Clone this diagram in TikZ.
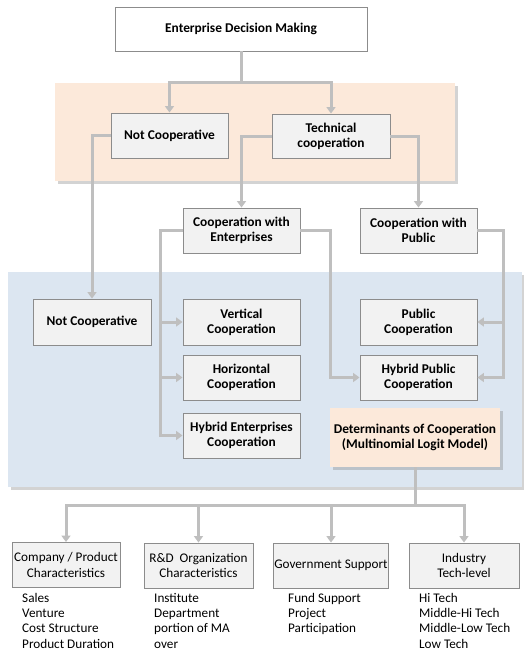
\documentclass[tikz,border=0pt]{standalone}
\usepackage{fontspec}
\setmainfont{Carlito}
\usetikzlibrary{arrows.meta,shadows,calc}
\definecolor{peach}{HTML}{FCE9DA}
\definecolor{paleblue}{HTML}{DCE6F1}
\definecolor{boxfill}{HTML}{F2F2F2}
\definecolor{boxline}{HTML}{8C8C8C}
\definecolor{conncol}{HTML}{BFBFBF}
\tikzset{
  gbox/.style={draw=boxline, fill=boxfill, line width=0.9pt, align=center, inner sep=2pt,
    font=\bfseries\fontsize{13.4}{15}\selectfont},
  wbox/.style={gbox, fill=white},
  bbox/.style={gbox, font=\fontsize{13.2}{15.5}\selectfont},
  detbox/.style={fill=peach, align=center, inner sep=2pt,
    font=\bfseries\fontsize{13.4}{15}\selectfont,
    drop shadow={shadow xshift=2.5pt, shadow yshift=-2.5pt, opacity=0.35}},
  region/.style={drop shadow={shadow xshift=3pt, shadow yshift=-3pt, opacity=0.35}},
  conn/.style={draw=conncol, line width=3pt},
  arr/.style={conn, -{Triangle[width=9pt,length=6.5pt]}},
  listtxt/.style={anchor=north west, align=left, inner sep=0pt,
    font=\fontsize{13.2}{15.3}\selectfont}
}
\begin{document}
\begin{tikzpicture}[x=1pt,y=-1pt]
\useasboundingbox (0,0) rectangle (524,654);
% background regions
\path[region, fill=peach] (55,83) rectangle (455,181);
\path[region, fill=paleblue] (8,272) rectangle (522,487);

% top
\node[wbox, minimum width=252, minimum height=44] (top) at (241,29) {Enterprise Decision Making};
\node[gbox, minimum width=117, minimum height=45] (nc1) at (169.5,135.5) {Not Cooperative};
\node[gbox, minimum width=118, minimum height=44] (tc) at (331,136) {Technical\\cooperation};

\node[gbox, minimum width=117, minimum height=45] (ce) at (241.5,230.5) {Cooperation with\\Enterprises};
\node[gbox, minimum width=117, minimum height=45] (cp) at (418.5,230.5) {Cooperation with\\Public};

\node[gbox, minimum width=118, minimum height=46] (nc2) at (92,322) {Not Cooperative};
\node[gbox, minimum width=117, minimum height=46] (vc) at (241.5,322) {Vertical\\Cooperation};
\node[gbox, minimum width=117, minimum height=46] (pc) at (418.5,322) {Public\\Cooperation};
\node[gbox, minimum width=117, minimum height=45] (hc) at (241.5,377.5) {Horizontal\\Cooperation};
\node[gbox, minimum width=117, minimum height=45] (hp) at (418.5,377.5) {Hybrid Public\\Cooperation};
\node[gbox, minimum width=117, minimum height=45, inner sep=1pt] (he) at (241.5,435.5) {Hybrid Enterprises\\Cooperation};
\node[detbox, minimum width=170, minimum height=59, inner sep=1pt] (det) at (415,437.5) {Determinants of Cooperation\\(Multinomial Logit Model)};

% bottom boxes
\node[bbox, minimum width=108, minimum height=45, inner sep=1pt] (b1) at (66,565) {Company / Product\\Characteristics};
\node[bbox, minimum width=109, minimum height=45, inner sep=1pt] (b2) at (198.5,565.5) {R\&D~ Organization\\Characteristics};
\node[bbox, minimum width=110, minimum height=45, inner sep=1pt] (b3) at (331,565.5) {Government Support};
\node[bbox, minimum width=110, minimum height=45] (b4) at (464,565.5) {Industry\\Tech-level};

\node[listtxt] (l1) at (22,593) {Sales\\Venture\\Cost Structure\\Product Duration};
\node[listtxt] (l2) at (154,593) {Institute\\Department\\portion of MA\\over};
\node[listtxt] (l3) at (288,593) {Fund Support\\Project\\Participation};
\node[listtxt] (l4) at (419,593) {Hi Tech\\Middle-Hi Tech\\Middle-Low Tech\\Low Tech};

% connectors
\coordinate (j1) at (241,82);
\draw[conn] (top.south) -- (j1);
\draw[arr] (j1) -| (nc1.north);
\draw[arr] (j1) -| (tc.north);

\draw[arr] (nc1.west) -| (nc2.north);
\draw[arr] (tc.west) -| (ce.north);
\draw[arr] (tc.east) -| (cp.north);

\coordinate (lx) at (160,0);
\draw[arr] (ce.west) -| (lx |- vc.west) -- (vc.west);
\draw[arr] (ce.west) -| (lx |- hc.west) -- (hc.west);
\draw[arr] (ce.west) -| (lx |- he.west) -- (he.west);

\coordinate (mx) at (330,0);
\draw[arr] (ce.east) -| (mx |- hp.west) -- (hp.west);

\coordinate (rx) at (503,0);
\draw[arr] (cp.east) -| (rx |- pc.east) -- (pc.east);
\draw[arr] (cp.east) -| (rx |- hp.east) -- (hp.east);

\coordinate (j2) at (415,505);
\draw[conn] (det.south) -- (j2);
\draw[arr] (j2) -| (b1.north);
\draw[arr] (j2) -| (b2.north);
\draw[arr] (j2) -| (b3.north);
\draw[arr] (j2) -| (b4.north);
\end{tikzpicture}
\end{document}
